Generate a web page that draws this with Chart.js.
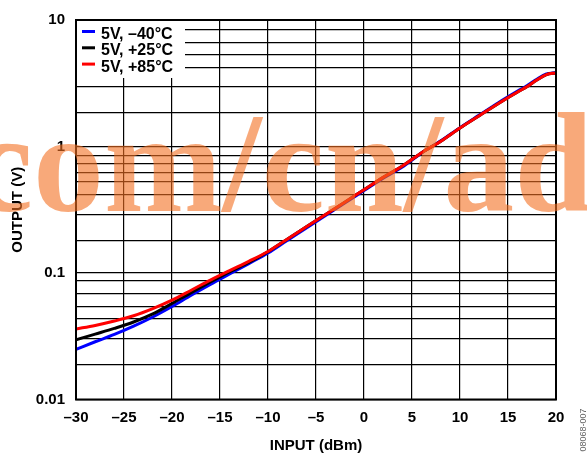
<!DOCTYPE html>
<html>
<head>
<meta charset="utf-8">
<script src="https://cdn.jsdelivr.net/npm/chart.js@4/dist/chart.umd.min.js"></script>
<style>
  html, body { margin: 0; padding: 0; background: #fff; }
  canvas { display: block; }
</style>
</head>
<body>
<canvas id="chart" width="587" height="456"></canvas>
<script>
// Input power sweep (dBm)
const inputDbm = [-30, -28, -26, -24, -22, -20, -18, -16, -14, -12, -10, -8, -6, -4, -2, 0, 2, 4, 6, 8, 10, 12, 14, 16, 17, 18, 19, 20];

// Output voltage (V) at each temperature
const outMinus40 = [0.0249, 0.0286, 0.0327, 0.0380, 0.0449, 0.0543, 0.0668, 0.0813, 0.0982, 0.1186, 0.144, 0.181, 0.227, 0.285, 0.357, 0.448, 0.562, 0.690, 0.890, 1.11, 1.41, 1.77, 2.22, 2.74, 3.03, 3.40, 3.74, 3.84];
const outPlus25 = [0.0297, 0.0329, 0.0365, 0.0410, 0.0475, 0.0574, 0.0700, 0.0848, 0.1020, 0.1210, 0.147, 0.185, 0.232, 0.290, 0.363, 0.455, 0.570, 0.700, 0.893, 1.10, 1.40, 1.75, 2.19, 2.70, 2.98, 3.35, 3.70, 3.82];
const outPlus85 = [0.0361, 0.0385, 0.0417, 0.0459, 0.0523, 0.0610, 0.0731, 0.0879, 0.1045, 0.1236, 0.148, 0.185, 0.232, 0.290, 0.363, 0.455, 0.570, 0.700, 0.893, 1.10, 1.40, 1.75, 2.19, 2.70, 2.98, 3.35, 3.70, 3.82];

const seriesLabels = ['5V, –40°C', '5V, +25°C', '5V, +85°C'];
const seriesColors = ['#0000ff', '#000000', '#ff0000'];

// Axis ticks and grid rulings
const xTickValues = [-30, -25, -20, -15, -10, -5, 0, 5, 10, 15, 20];
const yGridValues = [0.01, 0.0188, 0.0304, 0.0437, 0.0538, 0.0685, 0.0872,
                     0.1, 0.182, 0.29, 0.42, 0.529, 0.625, 0.736, 0.843,
                     1, 1.86, 2.95, 4.24, 5.29, 6.64, 8.44, 10];
const yDecades = [0.01, 0.1, 1, 10];
const yDecadeLabels = ['0.01', '0.1', '1', '10'];

const FONT = 'Liberation Sans, Arial, Helvetica, sans-serif';

function points(ys) {
  return inputDbm.map((x, i) => ({ x: x, y: ys[i] }));
}

function dashLabel(v) {
  return v < 0 ? '–' + Math.abs(v) : String(v);
}

// Legend panel in the upper-left corner of the plot
const legendPanel = {
  id: 'legendPanel',
  beforeDatasetsDraw(chart) {
    const ctx = chart.ctx;
    const a = chart.chartArea;
    ctx.save();
    ctx.fillStyle = '#fff';
    ctx.fillRect(a.left + 1, a.top + 1, 108, 57);
    ctx.font = 'bold 16px ' + FONT;
    ctx.textBaseline = 'alphabetic';
    ctx.textAlign = 'left';
    chart.data.datasets.forEach((ds, i) => {
      const base = a.top + 19 + i * 16.3;
      ctx.strokeStyle = ds.borderColor;
      ctx.lineWidth = 3;
      ctx.beginPath();
      ctx.moveTo(a.left + 6, base - 7.5);
      ctx.lineTo(a.left + 19, base - 7.5);
      ctx.stroke();
      ctx.fillStyle = '#000';
      ctx.fillText(ds.label, a.left + 25, base);
    });
    ctx.restore();
  }
};

// Heavy frame around the plot area
const plotFrame = {
  id: 'plotFrame',
  afterDatasetsDraw(chart) {
    const ctx = chart.ctx;
    const a = chart.chartArea;
    ctx.save();
    ctx.strokeStyle = '#000';
    ctx.lineWidth = 2;
    ctx.strokeRect(a.left, a.top, a.right - a.left, a.bottom - a.top);
    ctx.restore();
  }
};

// Site watermark across the middle and the figure number at the lower right
const overlayText = {
  id: 'overlayText',
  afterDraw(chart) {
    const ctx = chart.ctx;
    ctx.save();
    ctx.font = 'bold 142px "Liberation Serif", "Times New Roman", serif';
    ctx.fillStyle = 'rgba(243, 112, 33, 0.6)';
    ctx.textBaseline = 'alphabetic';
    ctx.textAlign = 'left';
    ctx.fillText('com/cn/ad', -30, 211);
    ctx.restore();

    ctx.save();
    ctx.translate(584, 430);
    ctx.rotate(-Math.PI / 2);
    ctx.font = '9px ' + FONT;
    ctx.fillStyle = '#666';
    ctx.textAlign = 'center';
    ctx.textBaseline = 'middle';
    ctx.fillText('08068-007', 0, 0);
    ctx.restore();
  }
};

new Chart(document.getElementById('chart'), {
  type: 'line',
  data: {
    datasets: [
      { label: seriesLabels[0], data: points(outMinus40), borderColor: seriesColors[0], order: 3 },
      { label: seriesLabels[1], data: points(outPlus25), borderColor: seriesColors[1], order: 2 },
      { label: seriesLabels[2], data: points(outPlus85), borderColor: seriesColors[2], order: 1 }
    ].map(ds => Object.assign(ds, {
      borderWidth: 3,
      pointRadius: 0,
      fill: false,
      cubicInterpolationMode: 'monotone'
    }))
  },
  options: {
    responsive: false,
    devicePixelRatio: 1,
    animation: false,
    layout: { padding: { left: 0, right: 31, top: 16, bottom: 0 } },
    plugins: {
      legend: { display: false },
      tooltip: { enabled: false }
    },
    scales: {
      x: {
        type: 'linear',
        min: -30,
        max: 20,
        afterBuildTicks(scale) {
          scale.ticks = xTickValues.map(v => ({ value: v }));
        },
        afterFit(scale) { scale.height = 56.5; },
        grid: { color: '#000', lineWidth: 1.2, drawTicks: false },
        border: { display: false },
        ticks: {
          autoSkip: false,
          maxRotation: 0,
          padding: 9,
          color: '#000',
          font: { family: FONT, size: 15, weight: 'bold' },
          callback: v => dashLabel(v)
        },
        title: {
          display: true,
          text: 'INPUT (dBm)',
          color: '#000',
          font: { family: FONT, size: 15, weight: 'bold' },
          padding: { top: 0, bottom: 1 }
        }
      },
      y: {
        type: 'logarithmic',
        min: 0.01,
        max: 10,
        afterBuildTicks(scale) {
          scale.ticks = yGridValues.map(v => ({ value: v }));
        },
        afterFit(scale) { scale.width = 76; },
        grid: { color: '#000', lineWidth: 1.2, drawTicks: false },
        border: { display: false },
        ticks: {
          autoSkip: false,
          padding: 11,
          color: '#000',
          font: { family: FONT, size: 15, weight: 'bold' },
          callback: v => {
            const k = yDecades.findIndex(d => Math.abs(d - v) < d * 1e-6);
            return k >= 0 ? yDecadeLabels[k] : '';
          }
        },
        title: {
          display: true,
          text: 'OUTPUT (V)',
          color: '#000',
          font: { family: FONT, size: 15, weight: 'bold' },
          padding: { top: 9, bottom: 0 }
        }
      }
    }
  },
  plugins: [legendPanel, plotFrame, overlayText]
});
</script>
</body>
</html>
